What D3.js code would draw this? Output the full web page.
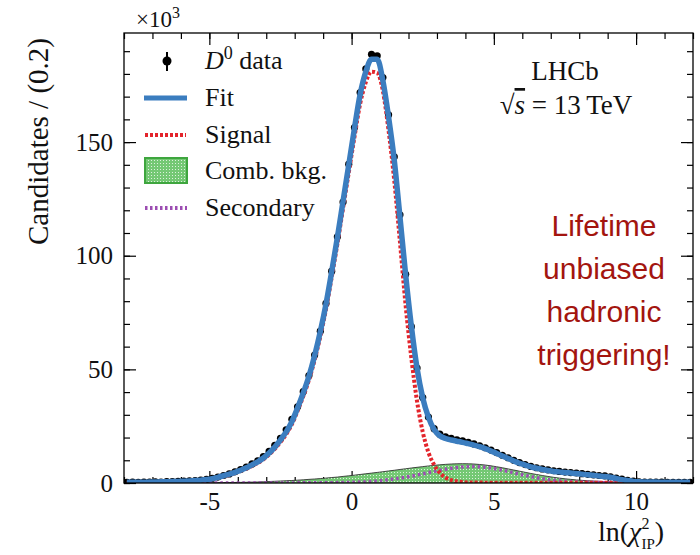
<!DOCTYPE html>
<html>
<head>
<meta charset="utf-8">
<script src="https://cdn.jsdelivr.net/npm/d3@7"></script>
<style>
  body { margin: 0; background: #fff; }
  svg { display: block; }
</style>
</head>
<body>
<div id="chart"></div>
<script>
/* dimensions de la page et de la zone du graphique */
const width = 700;
const height = 555;
const plot = {left: 124, right: 693, top: 33, bottom: 483};

/* bins de 0.2 en ln(chi2_IP), de -8 à 12 ; valeurs en milliers */
const bin_low = -8;
const bin_width = 0.2;
const x_domain = [-8, 12];
const y_domain = [0, 198];

const data_counts = [
  0.25, 0.35, 0.30, 0.40, 0.35, 0.50, 0.45, 0.60, 0.65, 0.70,
  0.85, 0.95, 1.10, 1.30, 1.60, 2.00, 2.60, 3.30, 4.00, 4.90,
  5.90, 7.00, 8.40, 9.80, 11.6, 13.9, 16.6, 19.6, 23.4, 28.0,
  33.5, 40.2, 47.3, 56.3, 66.8, 79.0, 93.2, 108.3, 123.6, 140.3,
  156.4, 171.8, 182.2, 188.6, 188.0, 178.4, 162.0, 143.5, 118.0, 91.8,
  68.8, 50.6, 37.6, 29.0, 23.9, 21.5, 20.3, 19.6, 19.0, 18.5,
  17.9, 17.2, 16.4, 15.5, 14.5, 13.4, 12.2, 11.1, 10.0, 9.0,
  8.1, 7.3, 6.7, 6.2, 5.8, 5.4, 5.1, 4.8, 4.6, 4.4,
  4.1, 3.8, 3.6, 3.3, 3.1, 2.7, 2.2, 1.7, 1.2, 0.8,
  0.55, 0.45, 0.40, 0.35, 0.35, 0.30, 0.30, 0.30, 0.25, 0.30
];

const fit_values = [
  0.30, 0.30, 0.32, 0.35, 0.40, 0.45, 0.50, 0.57, 0.63, 0.70,
  0.78, 0.90, 1.05, 1.25, 1.50, 1.90, 2.50, 3.20, 3.90, 4.70,
  5.60, 6.70, 8.00, 9.30, 11.0, 13.2, 15.8, 19.0, 22.5, 27.0,
  33.0, 39.6, 47.0, 56.0, 66.6, 78.8, 93.0, 108.0, 124.0, 140.0,
  156.0, 171.0, 181.0, 186.5, 186.5, 177.0, 161.0, 142.0, 117.0, 91.5,
  69.0, 50.5, 37.5, 29.0, 23.5, 20.8, 19.6, 18.9, 18.4, 17.9,
  17.3, 16.7, 16.0, 15.1, 14.1, 13.0, 11.9, 10.8, 9.7, 8.7,
  7.9, 7.1, 6.5, 6.0, 5.5, 5.1, 4.9, 4.6, 4.4, 4.2,
  3.9, 3.6, 3.4, 3.1, 2.9, 2.5, 2.0, 1.5, 1.1, 0.7,
  0.50, 0.45, 0.40, 0.40, 0.35, 0.35, 0.30, 0.30, 0.30, 0.30
];

const signal_values = [
  0.25, 0.25, 0.26, 0.28, 0.32, 0.36, 0.41, 0.47, 0.52, 0.58,
  0.65, 0.75, 0.88, 1.05, 1.30, 1.68, 2.25, 2.92, 3.60, 4.40,
  5.30, 6.30, 7.55, 8.80, 10.4, 12.5, 15.0, 18.0, 21.4, 25.8,
  31.7, 38.1, 45.3, 54.1, 64.5, 76.5, 90.5, 105.2, 120.9, 136.6,
  152.2, 166.8, 176.4, 181.0, 180.5, 172.5, 155.0, 133.0, 106.0, 78.0,
  55.0, 36.0, 22.5, 13.5, 8.0, 4.5, 2.4, 1.3, 0.7, 0.4,
  0.25, 0.20, 0.18, 0.16, 0.15, 0.14, 0.13, 0.12, 0.11, 0.10,
  0.10, 0.09, 0.09, 0.08, 0.08, 0.08, 0.07, 0.07, 0.07, 0.06,
  0.06, 0.06, 0.06, 0.06, 0.06, 0.06, 0.06, 0.06, 0.06, 0.06,
  0.05, 0.05, 0.05, 0.05, 0.05, 0.05, 0.05, 0.05, 0.05, 0.05
];

const comb_values = [
  0.02, 0.02, 0.03, 0.03, 0.04, 0.05, 0.05, 0.06, 0.07, 0.08,
  0.09, 0.10, 0.11, 0.12, 0.14, 0.16, 0.18, 0.20, 0.22, 0.24,
  0.27, 0.32, 0.38, 0.45, 0.55, 0.65, 0.75, 0.88, 1.00, 1.10,
  1.25, 1.40, 1.60, 1.75, 1.95, 2.15, 2.40, 2.60, 2.90, 3.15,
  3.45, 3.75, 4.05, 4.35, 4.65, 4.95, 5.30, 5.60, 5.95, 6.25,
  6.60, 6.90, 7.20, 7.50, 7.75, 8.00, 8.20, 8.35, 8.45, 8.50,
  8.45, 8.35, 8.15, 7.90, 7.55, 7.15, 6.70, 6.20, 5.70, 5.20,
  4.70, 4.20, 3.75, 3.30, 2.90, 2.50, 2.15, 1.85, 1.60, 1.35,
  1.15, 1.00, 0.85, 0.72, 0.60, 0.50, 0.42, 0.35, 0.30, 0.25,
  0.20, 0.17, 0.14, 0.12, 0.10, 0.08, 0.07, 0.06, 0.05, 0.04
];

const secondary_values = [
  0.05, 0.05, 0.05, 0.05, 0.05, 0.05, 0.05, 0.05, 0.05, 0.05,
  0.05, 0.05, 0.05, 0.05, 0.05, 0.05, 0.05, 0.05, 0.05, 0.05,
  0.05, 0.05, 0.05, 0.05, 0.05, 0.05, 0.05, 0.05, 0.05, 0.05,
  0.06, 0.07, 0.08, 0.09, 0.10, 0.12, 0.14, 0.17, 0.20, 0.25,
  0.32, 0.42, 0.55, 0.72, 0.92, 1.15, 1.45, 1.80, 2.15, 2.55,
  3.00, 3.50, 4.00, 4.55, 5.10, 5.60, 6.05, 6.45, 6.80, 7.05,
  7.20, 7.25, 7.15, 6.95, 6.60, 6.15, 5.65, 5.10, 4.50, 3.90,
  3.35, 2.85, 2.35, 1.90, 1.55, 1.25, 1.00, 0.78, 0.60, 0.47,
  0.36, 0.28, 0.22, 0.17, 0.13, 0.10, 0.08, 0.07, 0.06, 0.05,
  0.05, 0.05, 0.05, 0.05, 0.05, 0.05, 0.05, 0.05, 0.05, 0.05
];

const x_ticks = [-5, 0, 5, 10];
const y_ticks = [0, 50, 100, 150];
const legend_labels = ["data", "Fit", "Signal", "Comb. bkg.", "Secondary"];
const message_lines = ["Lifetime", "unbiased", "hadronic", "triggering!"];

/* couleurs */
const col_fit = "#3b7dbf";
const col_signal = "#e3242b";
const col_secondary = "#9c4db2";
const col_message = "#a3150f";
const serif = "'Liberation Serif', 'DejaVu Serif', serif";

/* centres des bins */
const centres = data_counts.map((d, i) => bin_low + bin_width * (i + 0.5));

const x = d3.scaleLinear().domain(x_domain).range([plot.left, plot.right]);
const y = d3.scaleLinear().domain(y_domain).range([plot.bottom, plot.top]);

const svg = d3.select("#chart").append("svg")
    .attr("width", width)
    .attr("height", height)
    .attr("viewBox", [0, 0, width, height]);

const defs = svg.append("defs");
defs.append("clipPath").attr("id", "clip")
  .append("rect")
    .attr("x", plot.left).attr("y", plot.top)
    .attr("width", plot.right - plot.left)
    .attr("height", plot.bottom - plot.top);

/* motif vert pointillé pour le bruit combinatoire */
const pat = defs.append("pattern")
    .attr("id", "comb")
    .attr("patternUnits", "userSpaceOnUse")
    .attr("width", 3).attr("height", 3);
pat.append("rect").attr("width", 3).attr("height", 3).attr("fill", "#74c874");
pat.append("rect").attr("x", 1).attr("y", 1).attr("width", 1).attr("height", 1)
    .attr("fill", "#fff").attr("fill-opacity", 0.75);

/* axes : graduations vers l'intérieur sur les quatre côtés */
function style_axis(g) {
  g.select(".domain").remove();
  g.selectAll(".tick line").attr("stroke", "#000").attr("stroke-width", 1.2);
  g.selectAll(".tick text")
    .attr("font-family", serif)
    .attr("font-size", 25)
    .attr("fill", "#111");
}

const fmt = d => d < 0 ? "-" + Math.abs(d) : String(d);

svg.append("g").attr("transform", `translate(0,${plot.bottom})`)
  .call(d3.axisBottom(x).ticks(20).tickSize(-6).tickFormat(""))
  .call(style_axis);
svg.append("g").attr("transform", `translate(0,${plot.bottom})`)
  .call(d3.axisBottom(x).tickValues(x_ticks).tickSize(-12).tickPadding(9).tickFormat(fmt))
  .call(style_axis);
svg.append("g").attr("transform", `translate(0,${plot.top})`)
  .call(d3.axisTop(x).ticks(20).tickSize(-6).tickFormat(""))
  .call(style_axis);
svg.append("g").attr("transform", `translate(0,${plot.top})`)
  .call(d3.axisTop(x).tickValues(x_ticks).tickSize(-12).tickFormat(""))
  .call(style_axis);

svg.append("g").attr("transform", `translate(${plot.left},0)`)
  .call(d3.axisLeft(y).ticks(20).tickSize(-6).tickFormat(""))
  .call(style_axis);
svg.append("g").attr("transform", `translate(${plot.left},0)`)
  .call(d3.axisLeft(y).tickValues(y_ticks).tickSize(-12).tickPadding(11).tickFormat(fmt))
  .call(style_axis);
svg.append("g").attr("transform", `translate(${plot.right},0)`)
  .call(d3.axisRight(y).ticks(20).tickSize(-6).tickFormat(""))
  .call(style_axis);
svg.append("g").attr("transform", `translate(${plot.right},0)`)
  .call(d3.axisRight(y).tickValues(y_ticks).tickSize(-12).tickFormat(""))
  .call(style_axis);

/* les courbes */
const layer = svg.append("g").attr("clip-path", "url(#clip)");

const line = d3.line()
    .x((d, i) => x(centres[i]))
    .y(d => y(d))
    .curve(d3.curveMonotoneX);

const area = d3.area()
    .x((d, i) => x(centres[i]))
    .y0(y(0))
    .y1(d => y(d))
    .curve(d3.curveMonotoneX);

layer.append("path")
    .datum(comb_values)
    .attr("d", area)
    .attr("fill", "url(#comb)");
layer.append("path")
    .datum(comb_values)
    .attr("d", line)
    .attr("fill", "none")
    .attr("stroke", "#333")
    .attr("stroke-width", 0.9);

layer.append("g")
  .selectAll("circle")
  .data(data_counts)
  .join("circle")
    .attr("cx", (d, i) => x(centres[i]))
    .attr("cy", d => y(d))
    .attr("r", 3.6)
    .attr("fill", "#000");

layer.append("path")
    .datum(secondary_values)
    .attr("d", line)
    .attr("fill", "none")
    .attr("stroke", col_secondary)
    .attr("stroke-width", 3.5)
    .attr("stroke-dasharray", "2.5,3");

layer.append("path")
    .datum(signal_values)
    .attr("d", line)
    .attr("fill", "none")
    .attr("stroke", col_signal)
    .attr("stroke-width", 4)
    .attr("stroke-dasharray", "3,2");

layer.append("path")
    .datum(fit_values)
    .attr("d", line)
    .attr("fill", "none")
    .attr("stroke", col_fit)
    .attr("stroke-width", 5.5)
    .attr("stroke-linejoin", "round");

/* cadre */
svg.append("rect")
    .attr("x", plot.left).attr("y", plot.top)
    .attr("width", plot.right - plot.left)
    .attr("height", plot.bottom - plot.top)
    .attr("fill", "none")
    .attr("stroke", "#000")
    .attr("stroke-width", 1.3);

/* titres des axes */
svg.append("text")
    .attr("transform", "translate(48,38) rotate(-90)")
    .attr("text-anchor", "end")
    .attr("font-family", serif)
    .attr("font-size", 29)
    .attr("fill", "#111")
    .text("Candidates / (0.2)");

const mult = svg.append("text")
    .attr("x", 136).attr("y", 27)
    .attr("font-family", serif)
    .attr("font-size", 23)
    .attr("fill", "#111");
mult.append("tspan").text("×10");
mult.append("tspan").attr("font-size", 16).attr("dy", -9).text("3");

const xlab = svg.append("text")
    .attr("x", 598).attr("y", 541)
    .attr("font-family", serif)
    .attr("font-size", 28)
    .attr("fill", "#111");
xlab.append("tspan").text("ln(");
xlab.append("tspan").attr("font-style", "italic").text("χ");
xlab.append("tspan").attr("font-size", 16).attr("dy", -12).text("2");
xlab.append("tspan").attr("font-size", 15).attr("dx", -8).attr("dy", 20).text("IP");
xlab.append("tspan").attr("dy", -8).text(")");

/* légende */
const legend_y = [61, 98, 135, 171, 208];
const leg = svg.append("g");

leg.append("line")
    .attr("x1", 167).attr("x2", 167).attr("y1", 52).attr("y2", 71)
    .attr("stroke", "#000").attr("stroke-width", 2);
leg.append("circle").attr("cx", 167).attr("cy", legend_y[0]).attr("r", 4.5).attr("fill", "#000");

leg.append("line")
    .attr("x1", 144).attr("x2", 187).attr("y1", legend_y[1]).attr("y2", legend_y[1])
    .attr("stroke", col_fit).attr("stroke-width", 5);
leg.append("line")
    .attr("x1", 145).attr("x2", 186).attr("y1", legend_y[2]).attr("y2", legend_y[2])
    .attr("stroke", col_signal).attr("stroke-width", 4).attr("stroke-dasharray", "3,2");
leg.append("rect")
    .attr("x", 145).attr("y", 158).attr("width", 42).attr("height", 25)
    .attr("fill", "url(#comb)").attr("stroke", "#3ea63e").attr("stroke-width", 2);
leg.append("line")
    .attr("x1", 145).attr("x2", 187).attr("y1", legend_y[4]).attr("y2", legend_y[4])
    .attr("stroke", col_secondary).attr("stroke-width", 4).attr("stroke-dasharray", "2.5,2.5");

leg.selectAll("text.lab")
  .data(legend_labels)
  .join("text")
    .attr("class", "lab")
    .attr("x", 205)
    .attr("y", (d, i) => legend_y[i] + 8)
    .attr("font-family", serif)
    .attr("font-size", 26)
    .attr("fill", "#111")
    .each(function(d, i) {
      const t = d3.select(this);
      if (i === 0) {
        t.append("tspan").attr("font-style", "italic").text("D");
        t.append("tspan").attr("font-size", 18).attr("dy", -10).text("0");
        t.append("tspan").attr("dy", 10).text(" " + d);
      } else {
        t.text(d);
      }
    });

/* LHCb et énergie */
svg.append("text")
    .attr("x", 565).attr("y", 80)
    .attr("text-anchor", "middle")
    .attr("font-family", serif)
    .attr("font-size", 27)
    .attr("fill", "#111")
    .text("LHCb");

const energy = svg.append("text")
    .attr("x", 566).attr("y", 114)
    .attr("text-anchor", "middle")
    .attr("font-family", serif)
    .attr("font-size", 27)
    .attr("fill", "#111");
energy.append("tspan").text("√");
energy.append("tspan").attr("font-style", "italic")
    .style("text-decoration", "overline").text("s");
energy.append("tspan").text(" = 13\u2009TeV");

/* le message en rouge */
svg.append("g")
  .selectAll("text")
  .data(message_lines)
  .join("text")
    .attr("x", 604)
    .attr("y", (d, i) => 236 + i * 43)
    .attr("text-anchor", "middle")
    .attr("font-family", "'Liberation Sans', Arial, sans-serif")
    .attr("font-size", 30)
    .attr("fill", col_message)
    .text(d => d);
</script>
</body>
</html>
